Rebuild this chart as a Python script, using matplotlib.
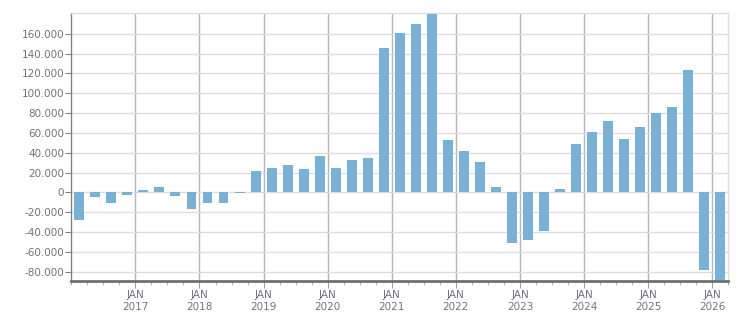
import numpy as np
import matplotlib.pyplot as plt
from matplotlib.ticker import FuncFormatter, MultipleLocator

# quarterly values, Q1 2016 .. Q1 2026
anos = [2016] * 4 + [2017] * 4 + [2018] * 4 + [2019] * 4 + [2020] * 4 + [2021] * 4 + \
       [2022] * 4 + [2023] * 4 + [2024] * 4 + [2025] * 4 + [2026]
trimestres = [1, 2, 3, 4] * 10 + [1]
valores = [-28000, -5000, -10500, -2700,
           2000, 5000, -3700, -17000,
           -10500, -10500, -800, 22000,
           25000, 27500, 23500, 36500,
           24500, 32500, 34500, 146000,
           160500, 169500, 179500, 52500,
           41500, 30500, 5300, -50800,
           -47700, -38600, 3300, 48600,
           60700, 71700, 53600, 65700,
           79800, 85800, 123200, -77900,
           -95000]
anos_label = list(range(2017, 2027))
y_ticks = list(range(-80000, 160001, 20000))

cor_barra = '#78b1d3'
cor_texto = '#75707f'

tempo = np.array(anos) + (np.array(trimestres) - 0.5) / 4

fig = plt.figure(figsize=(7.51, 3.13), dpi=100)
ax = fig.add_axes([0.0949, 0.1032, 0.875, 0.8543])

ax.bar(tempo, valores, width=0.25 * 0.62, color=cor_barra, zorder=3)

ax.set_xlim(2016, 2026.25)
ax.set_ylim(-89000, 180600)

ax.set_yticks(y_ticks)
ax.yaxis.set_major_formatter(FuncFormatter(lambda v, p: f'{v:,.0f}'.replace(',', '.')))
ax.set_xticks(anos_label)
ax.set_xticklabels([f'JAN\n{a}' for a in anos_label])
ax.xaxis.set_minor_locator(MultipleLocator(0.25))

ax.grid(axis='y', color='#dddddd', linewidth=1, zorder=0)
ax.grid(axis='x', which='major', color='#b5b5b5', linewidth=1, zorder=1)

for s in ['top', 'right']:
    ax.spines[s].set_color('#dddddd')
    ax.spines[s].set_linewidth(1)
ax.spines['left'].set_color('#808080')
ax.spines['left'].set_linewidth(1)
ax.spines['bottom'].set_color('#707070')
ax.spines['bottom'].set_linewidth(2)
ax.spines['bottom'].set_zorder(5)

ax.tick_params(axis='y', length=4, color='#808080', labelsize=7.5, labelcolor=cor_texto, pad=1)
ax.tick_params(axis='x', which='major', length=5, color='#a0a0a0', labelsize=7.5,
               labelcolor=cor_texto, pad=2)
ax.tick_params(axis='x', which='minor', length=3, color='#a0a0a0')
for t in ax.get_xticklabels():
    t.set_linespacing(1.15)

plt.savefig('out.png', dpi=100)
